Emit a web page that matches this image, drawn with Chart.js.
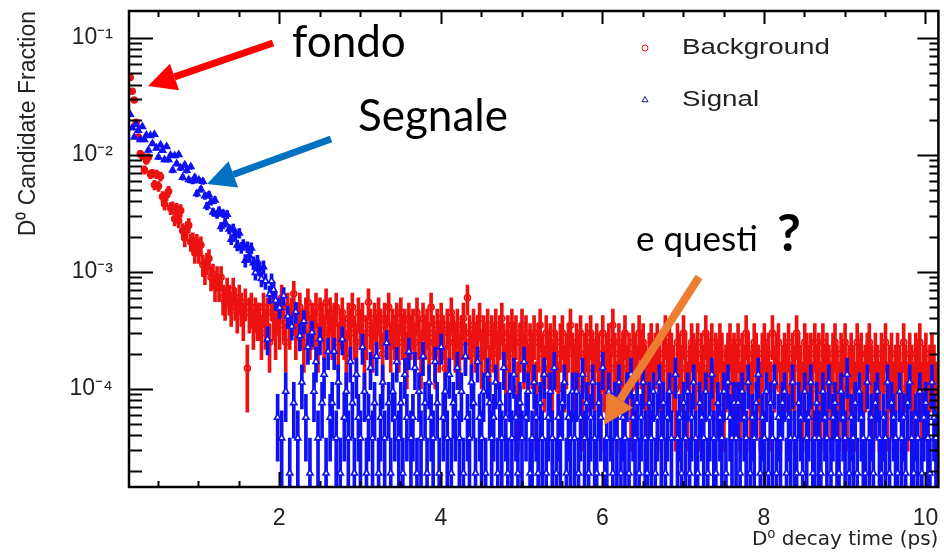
<!DOCTYPE html>
<html>
<head>
<meta charset="utf-8">
<script src="https://cdn.jsdelivr.net/npm/chart.js@4.4.1/dist/chart.umd.min.js"></script>
<style>
  html, body { margin: 0; padding: 0; background: #fff; }
</style>
</head>
<body>
<canvas id="decayChart" width="944" height="555"></canvas>
<script>
// histogram bins: centre of first bin and bin width (ps)
const binStart = 0.155;
const binWidth = 0.025;

// entries per bin (fraction = entries * weight)
const bkgWeight = 5e-5;
const sigWeight = 1.9e-5;

const bkgCounts = [
  920, 700, 590, 380, 285, 205, 196, 149, 179, 191, 137, 139, 111, 137, 108, 131, 88, 76, 91, 98,
  70, 71, 57, 69, 55, 67, 45, 39, 47, 50, 36, 37, 29, 36, 29, 34, 23, 20, 24, 26,
  18, 19, 15, 18, 15, 18, 12, 11, 14, 12, 10, 14, 11, 9, 12, 10, 8, 11, 3, 9,
  10, 7, 9, 8,
  8, 6, 10, 7, 9, 5, 11, 8, 6, 9, 7, 12, 8, 5, 10, 7, 9, 13, 6, 8, 10, 7, 5, 9, 11, 6, 8, 7, 10, 5, 9, 8, 6, 11, 7, 9,
  6, 8, 10, 5, 7, 9, 6, 4, 8, 7, 10, 6, 5, 9, 7, 8, 4, 6, 11, 7, 5, 8, 6, 9, 7, 4, 8, 6, 10, 5, 7, 6, 8, 5, 9, 6, 7, 4, 8, 6,
  7, 5, 9, 6, 4, 8, 6, 7, 5, 10, 6, 4, 7, 5, 8, 6, 3, 7, 5, 9, 6, 5, 7, 4, 6, 8, 5, 12, 6, 4, 7, 5, 6, 8, 4, 6, 5, 7, 3, 6,
  5, 7, 4, 6, 8, 5, 3, 6, 4, 7, 5, 6, 2, 5, 7, 4, 6, 3, 5, 4, 6, 2, 5, 7, 4, 3, 6, 4, 5, 3, 6, 4, 2, 5, 6, 3, 4, 5, 7, 4,
  3, 5, 4, 6, 2, 4, 5, 3, 6, 4, 3, 5, 4, 2, 6, 3, 4, 5, 3, 7, 4, 2, 5, 3, 4, 6, 3, 4, 2, 5, 4, 3, 6, 4, 5, 3, 2, 4, 5, 3,
  4, 5, 3, 2, 4, 6, 3, 5, 4, 3, 2, 5, 4, 3, 6, 4, 2, 3, 5, 4, 3, 5, 2, 4, 3, 6, 4, 3, 5, 2, 4, 3, 5, 4, 2, 3, 4, 5, 3, 4,
  3, 5, 2, 4, 3, 6, 4, 2, 3, 5, 4, 3, 2, 4, 5, 3, 4, 2, 6, 3, 4, 5, 2, 3, 4, 3, 5, 2, 4, 3, 6, 4, 3, 2, 5, 4, 3, 4, 2, 5,
  3, 4, 2, 5, 3, 4, 3, 2, 4, 5, 3, 2, 4, 3, 5, 2, 3, 4, 3, 2, 5, 3, 4, 2, 3, 4, 5, 3, 2, 4,
  3, 2, 4, 3, 5, 2, 3, 4, 2, 3, 4, 3, 2, 5, 3, 2, 4, 3, 2, 4, 3, 5, 2, 3, 4, 2, 3, 4, 3, 2
];

const sigCounts = [
  1168, 895, 747, 953, 853, 710, 919, 711, 778, 579, 771, 658, 787, 603, 503, 642, 575, 479, 620, 479,
  524, 390, 519, 443, 530, 407, 339, 433, 388, 323, 417, 316, 338, 246, 321, 268, 313, 235, 192, 240,
  210, 171, 216, 164, 176, 128, 166, 139, 163, 122, 100, 124, 109, 89, 113, 85, 90, 66, 86, 72,
  84, 63, 52, 65, 56, 46, 58, 44, 14, 34, 44, 37,
  30, 3, 26, 2, 33, 5, 22, 1, 18, 4, 24, 2, 15, 6, 20, 3, 12, 1, 16, 5, 9, 2, 14, 4, 7, 1, 11, 3,
  4, 11, 2, 6, 1, 14, 3, 5, 2, 9, 4, 1, 7, 3, 2, 12, 5, 1, 3, 8, 2, 4, 10, 1, 3, 6, 2, 13, 4, 1, 5, 3, 9, 2, 4, 1, 7, 3, 11, 2,
  3, 8, 1, 5, 2, 10, 4, 1, 6, 3, 2, 9, 4, 1, 12, 3, 5, 2, 7, 1, 4, 3, 8, 2, 5, 1, 10, 3, 2, 6, 4, 1, 9, 3, 2, 5, 1, 7, 4, 2,
  3, 6, 1, 4, 2, 8, 3, 1, 5, 2, 7, 3, 1, 4, 2, 9, 3, 5, 1, 2, 6, 3, 1, 4, 2, 7, 1, 3, 5, 2, 8, 1, 3, 2, 4, 6, 1, 3, 2, 5,
  2, 5, 1, 3, 7, 2, 4, 1, 3, 6, 2, 1, 4, 3, 8, 1, 2, 5, 3, 1, 4, 2, 6, 1, 3, 2, 5, 1, 7, 3, 2, 4, 1, 3, 6, 2, 1, 4, 2, 5,
  1, 3, 6, 2, 4, 1, 3, 5, 2, 0, 7, 2, 3, 1, 4, 2, 5, 1, 3, 6, 2, 1, 4, 3, 2, 5, 1, 3, 7, 2, 1, 4, 3, 2, 5, 1, 6, 3, 2, 4,
  2, 4, 1, 5, 3, 2, 6, 1, 3, 2, 4, 7, 1, 3, 2, 5, 1, 4, 2, 6, 1, 3, 2, 4, 5, 1, 3, 2, 6, 2, 1, 4, 3, 1, 5, 2, 3, 6, 1, 2,
  4, 2, 1, 5, 3, 2, 6, 1, 3, 4, 2, 1, 5, 3, 2, 7, 1, 3, 2, 4, 1, 5, 3, 2, 1, 6, 2, 3, 1, 4,
  5, 2, 1, 3, 2, 6, 1, 4, 3, 2, 1, 5, 2, 3, 1, 4, 6, 2, 1, 3, 2, 5, 1, 3, 4, 2, 1, 6, 3, 2
];

const xTicks = [2, 4, 6, 8, 10];
const yTicks = [1e-1, 1e-2, 1e-3, 1e-4];
const yTickLabels = ['10\u207B\u00B9', '10\u207B\u00B2', '10\u207B\u00B3', '10\u207B\u2074'];

const redCol = 'rgb(236,18,18)';
const blueCol = 'rgb(16,16,245)';
const yMin = 1.45e-5, yMax = 0.170;

// marker points
function toPoints(counts, w) {
  const out = [];
  counts.forEach((n, i) => {
    if (n > 0) out.push({ x: binStart + i * binWidth, y: n * w });
  });
  return out;
}

// poisson error bars as floating bars
function toErrors(counts, w) {
  const out = [];
  counts.forEach((n, i) => {
    if (n > 0) {
      const e = Math.sqrt(n) * w;
      out.push({ x: binStart + i * binWidth, y: [Math.max(n * w - e, 1e-7), n * w + e] });
    }
  });
  return out;
}

// dense, well populated bins merge into a solid band
const markerFill = (col, cut) => c => (c.raw && c.raw.y > cut ? col : '#fff');

// frame + root style ticks pointing inwards
const framePlugin = {
  id: 'frame',
  afterDatasetsDraw(chart) {
    const { ctx, chartArea: a, scales: { x, y } } = chart;
    ctx.save();
    ctx.strokeStyle = '#000';
    ctx.lineWidth = 2;
    ctx.beginPath();
    for (let e = -5; e <= -1; e++) {
      for (let m = 1; m <= 9; m++) {
        const v = m * Math.pow(10, e);
        if (v < yMin || v > yMax) continue;
        const py = Math.round(y.getPixelForValue(v)) + 0.5;
        const major = m === 1;
        ctx.moveTo(a.left, py); ctx.lineTo(a.left + (major ? 24 : 13), py);
        ctx.moveTo(a.right, py); ctx.lineTo(a.right - (major ? 21 : 9), py);
      }
    }
    for (let k = 1; k <= 20; k++) {
      const v = k * 0.5;
      const px = Math.round(x.getPixelForValue(v)) + 0.5;
      const major = k % 4 === 0;
      ctx.moveTo(px, a.bottom); ctx.lineTo(px, a.bottom - (major ? 15 : 6));
      ctx.moveTo(px, a.top); ctx.lineTo(px, a.top + (major ? 13 : 6));
    }
    ctx.stroke();
    ctx.lineWidth = 2.5;
    ctx.strokeRect(a.left, a.top, a.right - a.left, a.bottom - a.top);
    ctx.restore();
  }
};

function arrow(ctx, x1, y1, x2, y2, color, w, hl, hw) {
  const ang = Math.atan2(y2 - y1, x2 - x1);
  const bx = x2 - hl * Math.cos(ang), by = y2 - hl * Math.sin(ang);
  ctx.save();
  ctx.strokeStyle = color; ctx.fillStyle = color;
  ctx.lineWidth = w;
  ctx.beginPath(); ctx.moveTo(x1, y1); ctx.lineTo(bx, by); ctx.stroke();
  ctx.beginPath();
  ctx.moveTo(x2, y2);
  ctx.lineTo(bx + hw * Math.sin(ang), by - hw * Math.cos(ang));
  ctx.lineTo(bx - hw * Math.sin(ang), by + hw * Math.cos(ang));
  ctx.closePath(); ctx.fill();
  ctx.restore();
}

function wideText(ctx, txt, x, y, sx) {
  ctx.save();
  ctx.translate(x, y);
  ctx.scale(sx, 1);
  ctx.fillText(txt, 0, 0);
  ctx.restore();
}

// legend inside the frame and the slide annotations
const notesPlugin = {
  id: 'notes',
  afterDraw(chart) {
    const ctx = chart.ctx;
    const H = Chart.helpers;
    ctx.save();
    ctx.strokeStyle = redCol; ctx.fillStyle = '#fff';
    H.drawPoint(ctx, { pointStyle: 'circle', radius: 3, borderWidth: 1.2, rotation: 0 }, 645, 48);
    ctx.strokeStyle = '#101080'; ctx.fillStyle = '#fff';
    H.drawPoint(ctx, { pointStyle: 'triangle', radius: 3.5, borderWidth: 1.2, rotation: 0 }, 645, 100);
    ctx.fillStyle = '#222';
    ctx.font = '22px "Liberation Sans"';
    ctx.textBaseline = 'middle';
    wideText(ctx, 'Background', 682, 48, 1.26);
    wideText(ctx, 'Signal', 682, 100, 1.26);

    arrow(ctx, 273, 43, 148, 86, '#ff0000', 7, 28, 14);
    arrow(ctx, 331, 139, 207, 184, '#0070c0', 7, 28, 14);
    arrow(ctx, 699, 277, 604, 425, '#ed7d31', 8, 30, 15);

    ctx.fillStyle = '#000';
    ctx.textBaseline = 'alphabetic';
    ctx.font = '44px Lato';
    ctx.fillText('fondo', 292, 57);
    ctx.fillText('Segnale', 358, 131);
    ctx.font = '35px Lato';
    ctx.fillText('e questi', 636, 251);
    ctx.font = 'bold 52px Lato';
    ctx.fillText('?', 777, 251);
    ctx.restore();
  }
};

const tickFont = { family: 'Liberation Sans', size: 23 };

new Chart(document.getElementById('decayChart'), {
  type: 'bar',
  data: {
    datasets: [
      {
        type: 'scatter', label: 'Signal', data: toPoints(sigCounts, sigWeight),
        pointStyle: 'triangle', radius: 3.6, borderWidth: 1.6,
        borderColor: blueCol, backgroundColor: markerFill(blueCol, 1e-3), order: 0
      },
      {
        type: 'bar', label: 'Signal err', data: toErrors(sigCounts, sigWeight),
        backgroundColor: blueCol, barThickness: 3, grouped: false, order: 1
      },
      {
        type: 'bar', label: 'Background err', data: toErrors(bkgCounts, bkgWeight),
        backgroundColor: redCol, barThickness: 3, grouped: false, order: 2
      },
      {
        type: 'scatter', label: 'Background', data: toPoints(bkgCounts, bkgWeight),
        pointStyle: 'circle', radius: 3, borderWidth: 1.6,
        borderColor: redCol, backgroundColor: markerFill(redCol, 1.2e-3), order: 3
      }
    ]
  },
  options: {
    responsive: false,
    animation: false,
    devicePixelRatio: 1,
    layout: { padding: { top: 11, right: 3, left: 0, bottom: 0 } },
    plugins: { legend: { display: false }, tooltip: { enabled: false } },
    scales: {
      x: {
        type: 'linear', min: 0.14, max: 10.16, bounds: 'data', offset: false,
        grid: { display: false, drawTicks: false }, border: { display: false },
        afterBuildTicks: s => { s.ticks = xTicks.map(v => ({ value: v })); },
        afterFit: s => { s.height = 68; s.paddingLeft = 0; s.paddingRight = 0; },
        ticks: { padding: 18, font: tickFont, color: '#222', maxRotation: 0, autoSkip: false, callback: v => String(v) },
        title: {
          display: true, text: 'D\u2070 decay time (ps)', align: 'end', color: '#222',
          font: { family: 'DejaVu Sans', size: 20 }, padding: { top: 0, bottom: 3 }
        }
      },
      y: {
        type: 'logarithmic', min: yMin, max: yMax, bounds: 'data', beginAtZero: false,
        grid: { display: false, drawTicks: false }, border: { display: false },
        afterBuildTicks: s => { s.ticks = yTicks.map(v => ({ value: v })); },
        afterFit: s => { s.width = 129; s.paddingTop = 0; s.paddingBottom = 0; },
        ticks: { padding: 16, font: tickFont, color: '#222', autoSkip: false, callback: (v, i) => yTickLabels[i] },
        title: {
          display: true, text: 'D\u2070 Candidate Fraction', align: 'end', color: '#222',
          font: { family: 'Liberation Sans', size: 23 }, padding: { top: 15, bottom: 0 }
        }
      }
    }
  },
  plugins: [framePlugin, notesPlugin]
});
</script>
</body>
</html>
